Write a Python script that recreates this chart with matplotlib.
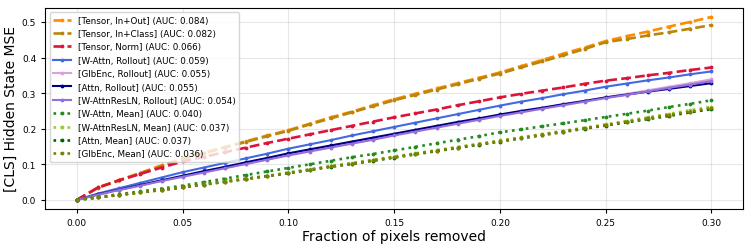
import matplotlib
matplotlib.use("Agg")
import matplotlib.pyplot as plt

# fraction of pixels removed
frac = [0.00, 0.01, 0.02, 0.03, 0.04, 0.05, 0.06, 0.07, 0.08, 0.09, 0.10,
        0.11, 0.12, 0.13, 0.14, 0.15, 0.16, 0.17, 0.18, 0.19, 0.20,
        0.21, 0.22, 0.23, 0.24, 0.25, 0.26, 0.27, 0.28, 0.29, 0.30]

# hidden state MSE per method
tensor_in_out = [0, .035, .056, .076, .097, .117, .133, .149, .165, .181, .196,
                 .214, .232, .248, .266, .283, .298, .313, .328, .343, .358,
                 .376, .393, .411, .428, .446, .460, .473, .487, .500, .514]
tensor_in_class = [0, .034, .055, .075, .095, .115, .131, .147, .163, .179, .194,
                   .212, .229, .246, .263, .280, .295, .310, .325, .340, .355,
                   .372, .389, .406, .424, .443, .452, .462, .471, .481, .491]
tensor_norm = [0, .035, .055, .073, .091, .108, .121, .134, .147, .160, .172,
               .184, .196, .208, .220, .232, .243, .254, .266, .277, .288,
               .298, .307, .316, .326, .335, .342, .350, .357, .365, .372]
wattn_rollout = [0, .018, .033, .048, .063, .078, .091, .104, .117, .130, .144,
                 .156, .168, .181, .193, .205, .217, .229, .241, .253, .265,
                 .276, .286, .297, .307, .318, .327, .336, .344, .353, .361]
glbenc_rollout = [0, .015, .028, .041, .054, .066, .078, .090, .102, .114, .127,
                  .138, .149, .160, .171, .183, .194, .205, .216, .227, .238,
                  .248, .258, .268, .278, .288, .298, .308, .318, .328, .339]
attn_rollout = [0, .016, .029, .042, .055, .068, .081, .093, .106, .118, .131,
                .142, .153, .164, .175, .186, .197, .208, .219, .229, .240,
                .250, .259, .269, .278, .288, .296, .304, .312, .320, .328]
resln_rollout = [0, .015, .028, .040, .053, .065, .077, .089, .101, .113, .125,
                 .136, .147, .158, .169, .181, .192, .203, .214, .225, .236,
                 .246, .256, .266, .276, .286, .295, .305, .315, .324, .334]
wattn_mean = [0, .008, .016, .024, .032, .040, .050, .060, .070, .080, .090,
              .100, .110, .120, .129, .139, .149, .159, .169, .179, .190,
              .198, .207, .215, .224, .233, .242, .251, .261, .270, .280]
resln_mean = [0, .007, .014, .021, .028, .036, .044, .052, .060, .068, .077,
              .086, .095, .104, .113, .122, .131, .140, .149, .158, .167,
              .176, .185, .194, .203, .212, .222, .232, .242, .252, .262]
attn_mean = [0, .007, .014, .021, .028, .035, .043, .051, .059, .067, .075,
             .084, .093, .101, .110, .119, .128, .137, .146, .155, .164,
             .173, .182, .191, .200, .209, .218, .227, .236, .246, .255]
glbenc_mean = [0, .007, .014, .021, .028, .035, .043, .051, .059, .067, .076,
               .085, .094, .102, .111, .120, .129, .138, .147, .156, .165,
               .174, .183, .192, .201, .210, .220, .229, .239, .248, .258]

labels = ["[Tensor, In+Out]", "[Tensor, In+Class]", "[Tensor, Norm]",
          "[W-Attn, Rollout]", "[GlbEnc, Rollout]", "[Attn, Rollout]",
          "[W-AttnResLN, Rollout]", "[W-Attn, Mean]", "[W-AttnResLN, Mean]",
          "[Attn, Mean]", "[GlbEnc, Mean]"]
aucs = [0.084, 0.082, 0.066, 0.059, 0.055, 0.055, 0.054, 0.040, 0.037, 0.037, 0.036]
series = [tensor_in_out, tensor_in_class, tensor_norm, wattn_rollout, glbenc_rollout,
          attn_rollout, resln_rollout, wattn_mean, resln_mean, attn_mean, glbenc_mean]

colors = ["darkorange", "darkgoldenrod", "crimson", "royalblue", "plum", "navy",
          "mediumpurple", "forestgreen", "yellowgreen", "darkgreen", "olive"]
styles = ["--", "--", "--", "-", "-", "-", "-", ":", ":", ":", ":"]

fig, ax = plt.subplots(figsize=(7.53, 2.51), dpi=100)
for vals, lab, auc, c, ls in zip(series, labels, aucs, colors, styles):
    lw = 1.5 if ls == "-" else 1.9
    ax.plot(frac, vals, linestyle=ls, color=c, lw=lw, marker=".", markersize=3.5,
            label=f"{lab} (AUC: {auc:.3f})")

ax.set_xlabel("Fraction of pixels removed", fontsize=10, labelpad=1.5)
ax.set_ylabel("[CLS] Hidden State MSE", fontsize=10, labelpad=3)
ax.tick_params(labelsize=6.5, length=3)
ax.grid(True, alpha=0.3)
ax.legend(loc="upper left", fontsize=6.3, handlelength=2.0, borderpad=0.4)

fig.subplots_adjust(left=0.06, right=0.987, top=0.965, bottom=0.163)
fig.savefig("out.png", dpi=100)
